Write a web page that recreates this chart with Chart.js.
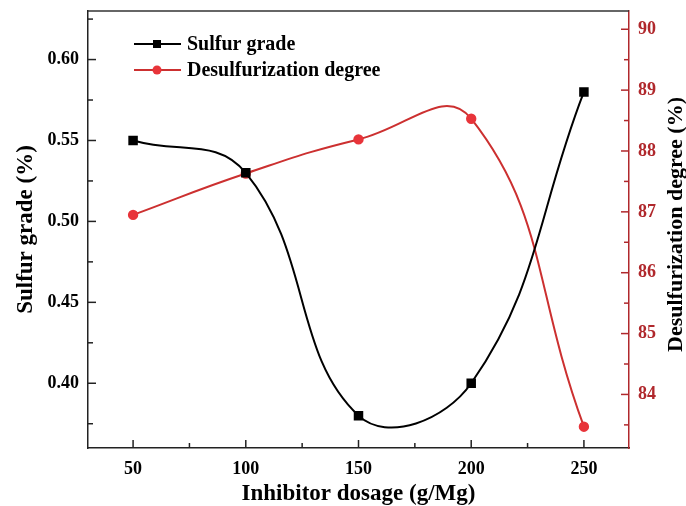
<!DOCTYPE html>
<html lang="en">
<head>
    <meta charset="UTF-8">
    <title>Sulfur grade vs inhibitor dosage</title>
    <script src="https://cdn.jsdelivr.net/npm/chart.js"></script>
    <style>
        html, body { margin: 0; padding: 0; background: #fff; }
        #wrap { width: 686px; height: 506px; }
    </style>
</head>
<body>
    <div id="wrap"><canvas id="gradeChart" width="686" height="506"></canvas></div>
    <script>
        // data
        var dosage = [50, 100, 150, 200, 250];
        var sulfurGrade = [0.55, 0.53, 0.38, 0.40, 0.58];
        var desulfDegree = [86.95, 87.63, 88.19, 88.53, 83.47];

        var xTicks = [50, 100, 150, 200, 250];
        var leftTicks = [0.40, 0.45, 0.50, 0.55, 0.60];
        var rightTicks = [84, 85, 86, 87, 88, 89, 90];

        var serif = '"Liberation Serif", "Times New Roman", serif';
        var redAxis = '#b0282c';
        var redLine = '#cc3030';
        var redDot = '#e8343a';

        function fixTicks(list) {
            return function (scale) {
                scale.ticks = list.map(function (v) { return { value: v }; });
            };
        }

        // inward major/minor ticks, box frame, right title and the inside legend
        var framePlugin = {
            id: 'frame',
            afterDraw: function (chart) {
                var ctx = chart.ctx, a = chart.chartArea;
                var sx = chart.scales.x, yl = chart.scales.y, yr = chart.scales.y1;
                ctx.save();
                ctx.lineWidth = 1.5;

                ctx.strokeStyle = '#333';
                ctx.beginPath();
                ctx.moveTo(a.left, a.top);
                ctx.lineTo(a.right, a.top);
                ctx.stroke();

                function tick(scale, v, len, side) {
                    var p = scale.getPixelForValue(v);
                    ctx.beginPath();
                    if (side === 'bottom') { ctx.moveTo(p, a.bottom); ctx.lineTo(p, a.bottom - len); }
                    if (side === 'left') { ctx.moveTo(a.left, p); ctx.lineTo(a.left + len, p); }
                    if (side === 'right') { ctx.moveTo(a.right, p); ctx.lineTo(a.right - len, p); }
                    ctx.stroke();
                }
                ctx.strokeStyle = '#222';
                xTicks.forEach(function (v, i) {
                    tick(sx, v, 8, 'bottom');
                    if (i < xTicks.length - 1) tick(sx, v + 25, 5, 'bottom');
                });
                leftTicks.forEach(function (v) {
                    tick(yl, v, 8, 'left');
                    tick(yl, v - 0.025, 5, 'left');
                });
                tick(yl, 0.625, 5, 'left');
                ctx.strokeStyle = redAxis;
                rightTicks.forEach(function (v) {
                    tick(yr, v, 8, 'right');
                    tick(yr, v - 0.5, 5, 'right');
                });

                // right axis title, reading bottom to top
                ctx.save();
                ctx.translate(676, (a.top + a.bottom) / 2 - 5);
                ctx.rotate(-Math.PI / 2);
                ctx.fillStyle = '#000';
                ctx.font = 'bold 22px ' + serif;
                ctx.textAlign = 'center';
                ctx.textBaseline = 'middle';
                ctx.fillText('Desulfurization degree (%)', 0, 0);
                ctx.restore();

                // legend
                var rows = [44, 70];
                chart.data.datasets.forEach(function (ds, i) {
                    var y = rows[i];
                    ctx.strokeStyle = ds.borderColor;
                    ctx.lineWidth = 2;
                    ctx.beginPath();
                    ctx.moveTo(134, y);
                    ctx.lineTo(181, y);
                    ctx.stroke();
                    ctx.fillStyle = ds.pointBackgroundColor;
                    ctx.beginPath();
                    if (ds.pointStyle === 'rect') {
                        ctx.rect(153, y - 4, 8, 8);
                    } else {
                        ctx.arc(157, y, 4.5, 0, Math.PI * 2);
                    }
                    ctx.fill();
                    ctx.fillStyle = '#000';
                    ctx.font = 'bold 20px ' + serif;
                    ctx.textBaseline = 'middle';
                    ctx.textAlign = 'left';
                    ctx.fillText(ds.label, 187, y + 1);
                });
                ctx.restore();
            }
        };

        var ctx = document.getElementById('gradeChart').getContext('2d');
        var gradeChart = new Chart(ctx, {
            type: 'line',
            data: {
                datasets: [{
                    label: 'Sulfur grade',
                    data: dosage.map(function (d, i) { return { x: d, y: sulfurGrade[i] }; }),
                    yAxisID: 'y',
                    borderColor: '#000',
                    backgroundColor: '#000',
                    pointBackgroundColor: '#000',
                    pointBorderColor: '#000',
                    pointStyle: 'rect',
                    pointRadius: 5.3,
                    borderWidth: 2,
                    tension: 0.42
                }, {
                    label: 'Desulfurization degree',
                    data: dosage.map(function (d, i) { return { x: d, y: desulfDegree[i] }; }),
                    yAxisID: 'y1',
                    borderColor: redLine,
                    backgroundColor: redDot,
                    pointBackgroundColor: redDot,
                    pointBorderColor: redDot,
                    pointStyle: 'circle',
                    pointRadius: 4.2,
                    borderWidth: 2,
                    tension: 0.45
                }]
            },
            options: {
                responsive: false,
                animation: false,
                layout: { padding: { top: 11, left: 0, right: 0, bottom: 0 } },
                plugins: {
                    legend: { display: false },
                    tooltip: { enabled: false }
                },
                scales: {
                    x: {
                        type: 'linear',
                        min: 30,
                        max: 270,
                        afterBuildTicks: fixTicks(xTicks),
                        afterFit: function (s) { s.height = 58; s.paddingLeft = 0; s.paddingRight = 0; },
                        grid: { display: false, drawTicks: false },
                        border: { display: true, color: '#222', width: 1.5 },
                        ticks: {
                            padding: 11,
                            color: '#000',
                            font: { family: serif, size: 18, weight: 'bold' }
                        },
                        title: {
                            display: true,
                            text: 'Inhibitor dosage (g/Mg)',
                            color: '#000',
                            padding: { top: 0, bottom: 0 },
                            font: { family: serif, size: 23, weight: 'bold', lineHeight: 1 }
                        }
                    },
                    y: {
                        position: 'left',
                        min: 0.36,
                        max: 0.63,
                        afterBuildTicks: fixTicks(leftTicks),
                        afterFit: function (s) { s.width = 88; s.paddingTop = 0; s.paddingBottom = 0; },
                        grid: { display: false, drawTicks: false },
                        border: { display: true, color: '#222', width: 1.5 },
                        ticks: {
                            padding: 9,
                            color: '#000',
                            font: { family: serif, size: 18, weight: 'bold' },
                            callback: function (v) { return v.toFixed(2); }
                        },
                        title: {
                            display: true,
                            text: 'Sulfur grade (%)',
                            color: '#000',
                            padding: { top: 15, bottom: 0 },
                            font: { family: serif, size: 23, weight: 'bold', lineHeight: 1 }
                        }
                    },
                    y1: {
                        position: 'right',
                        min: 83.12,
                        max: 90.3,
                        afterBuildTicks: fixTicks(rightTicks),
                        afterFit: function (s) { s.width = 57; s.paddingTop = 0; s.paddingBottom = 0; },
                        grid: { display: false, drawTicks: false },
                        border: { display: true, color: redAxis, width: 1.5 },
                        ticks: {
                            padding: 9,
                            color: redAxis,
                            font: { family: serif, size: 18, weight: 'bold' },
                            callback: function (v) { return String(v); }
                        },
                        title: { display: false }
                    }
                }
            },
            plugins: [framePlugin]
        });
    </script>
</body>
</html>
